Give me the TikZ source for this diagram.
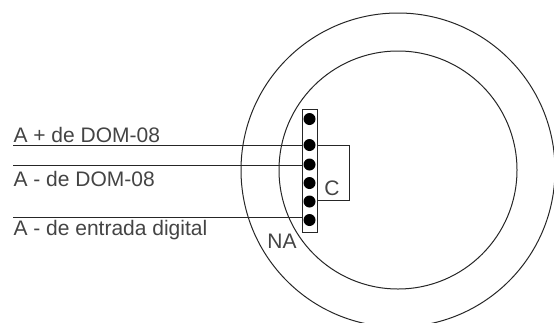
\documentclass[tikz,border=0pt]{standalone}
\usepackage{fontspec}
\setmainfont{Liberation Sans}
\usepackage{tikz}
\usetikzlibrary{calc,positioning}

\definecolor{labelgray}{HTML}{444444}

\begin{document}
\begin{tikzpicture}[x=1pt,y=-1pt,inner sep=0pt,line width=1pt,
                    ring/.style={circle,draw,black!85},
                    pin/.style={circle,fill=black,minimum size=12pt},
                    wire/.style={draw,black!85},
                    tag/.style={text=labelgray,font=\fontsize{21}{24}\selectfont}]
    \useasboundingbox (0,0) rectangle (554,322);

    \node at (398,170) (Outer) [ring,minimum size=314pt] {};
    \node at (398,170) (Inner) [ring,minimum size=238pt] {};

    \node at (309.5,170.5) (Strip) [draw,black!85,minimum width=15pt,minimum height=123pt] {};
    \node at (309.5,119.0) (P1) [pin] {};
    \node at (309.5,145.0) (P2) [pin] {};
    \node at (309.5,164.5) (P3) [pin] {};
    \node at (309.5,183.0) (P4) [pin] {};
    \node at (309.5,201.5) (P5) [pin] {};
    \node at (309.5,220.0) (P6) [pin] {};

    \coordinate (Aplus)  at (13,145.0);
    \coordinate (Aminus) at (13,165.0);
    \coordinate (Adig)   at (13,217.0);
    \coordinate (Ctop)   at (349.5,145.0);
    \coordinate (Cbot)   at (349.5,200.0);

    \draw [wire] (Aplus)  -- (Aplus -| Strip.west);
    \draw [wire] (Aminus) -- (Aminus -| Strip.west);
    \draw [wire] (Adig)   -- (Adig -| Strip.west);
    \draw [wire] (Ctop -| Strip.east) -- (Ctop) -- (Cbot) -- (Cbot -| Strip.east);

    \node at (13,142.0) (LAplus)  [anchor=base west,tag] {A + de DOM-08};
    \node at (13,186.0) (LAminus) [anchor=base west,tag] {A - de DOM-08};
    \node at (13,235.5) (LAdig)   [anchor=base west,tag] {A - de entrada digital};
    \node at (332,195.0) (LC)     [anchor=base,tag] {C};
    \node at (282,248.0) (LNA)    [anchor=base,tag] {NA};
\end{tikzpicture}
\end{document}
